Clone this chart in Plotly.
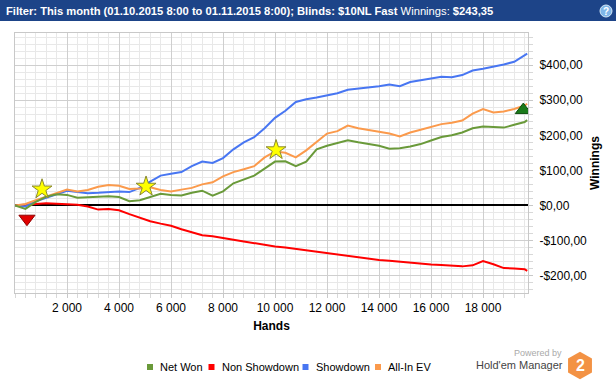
import math
import plotly.graph_objects as go

# ---------------- data ----------------
hands = [0, 400, 800, 1200, 1600, 2000, 2400, 2800, 3200, 3600,
         4000, 4400, 4800, 5200, 5600, 6000, 6400, 6800, 7200, 7600,
         8000, 8400, 8800, 9200, 9600, 10000, 10400, 10800, 11200, 11600,
         12000, 12400, 12800, 13200, 13600, 14000, 14400, 14800, 15200, 15600,
         16000, 16400, 16800, 17200, 17600, 18000, 18400, 18800, 19200, 19600,
         19700]

net_won = [0, -10, 10, 25, 32, 30, 22, 24, 25, 26,
           24, 12, 15, 24, 33, 30, 28, 36, 42, 28,
           40, 63, 75, 85, 105, 125, 126, 112, 125, 160,
           170, 178, 186, 180, 175, 170, 162, 163, 168, 175,
           185, 195, 200, 208, 220, 225, 224, 222, 230, 238,
           243.35]

non_showdown = [0, 1, 4, 6, 5, 4, 2, -3, -12, -10,
                -14, -25, -35, -45, -52, -58, -68, -76, -85, -88,
                -92, -98, -103, -108, -113, -117, -120, -124, -128, -133,
                -137, -140, -143, -148, -152, -156, -158, -161, -164, -166,
                -169, -170, -172, -174, -171, -159, -168, -179, -180, -182,
                -187]

showdown = [0, -3, 12, 22, 33, 42, 38, 35, 36, 37,
            40, 38, 50, 68, 85, 90, 95, 112, 125, 121,
            135, 160, 180, 195, 220, 250, 270, 295, 303, 308,
            313, 320, 330, 333, 338, 340, 345, 340, 352, 358,
            362, 367, 366, 372, 385, 390, 395, 402, 410, 428,
            433]

allin_ev = [0, 4, 15, 25, 36, 45, 40, 44, 53, 58,
            56, 47, 48, 52, 44, 40, 45, 50, 60, 66,
            83, 95, 103, 112, 137, 154, 150, 137, 157, 180,
            205, 212, 228, 220, 215, 212, 205, 197, 208, 216,
            225, 232, 236, 242, 262, 275, 265, 268, 275, 285,
            290]

star_hands = [1040, 5040, 10040]
star_values = [46, 54, 158]
low_hands = [460]
low_values = [-38]
high_hands = [19550]
high_values = [272]

series_names = ["Net Won", "Non Showdown", "Showdown", "All-In EV"]
series_colors = ["#6a9a3a", "#ff0000", "#4876f2", "#fb9a4c"]

x_tickvals = [2000, 4000, 6000, 8000, 10000, 12000, 14000, 16000, 18000]
x_ticktext = ["2 000", "4 000", "6 000", "8 000", "10 000", "12 000",
              "14 000", "16 000", "18 000"]
y_tickvals = [-200, -100, 0, 100, 200, 300, 400]
y_ticktext = ["-$200,00", "-$100,00", "$0,00", "$100,00", "$200,00",
              "$300,00", "$400,00"]

title_bold = "Filter: This month (01.10.2015 8:00 to 01.11.2015 8:00); Blinds: $10NL Fast"
title_rest = "Winnings:"
title_value = "$243,35"

# ---------------- layout helpers ----------------
W, H = 616, 380
ML, MR, MT, MB = 15, 88, 33, 87
PW, PH = W - ML - MR, H - MT - MB


def px(x):
    return (x - ML) / PW


def py(y):
    return (H - MB - y) / PH


FONT = "Liberation Sans, Arial, sans-serif"

fig = go.Figure()

series = [net_won, non_showdown, showdown, allin_ev]
order = [1, 2, 3, 0]
for k in order:
    fig.add_trace(go.Scatter(
        x=hands, y=series[k], mode="lines", name=series_names[k],
        line=dict(color=series_colors[k], width=2),
        showlegend=False, hoverinfo="skip"))

fig.add_trace(go.Scatter(
    x=star_hands, y=star_values, mode="markers", showlegend=False,
    marker=dict(symbol="star", size=15, color="#ffff00",
                line=dict(color="#8a8a30", width=1))))
fig.add_trace(go.Scatter(
    x=low_hands, y=low_values, mode="markers", showlegend=False,
    marker=dict(symbol="triangle-down", size=14, color="#e00000",
                line=dict(color="#900000", width=1))))
fig.add_trace(go.Scatter(
    x=high_hands, y=high_values, mode="markers", showlegend=False,
    marker=dict(symbol="triangle-up", size=14, color="#1a7a1a",
                line=dict(color="#0d4d0d", width=1))))

shapes = []
annotations = []

# header bar
shapes.append(dict(type="rect", xref="paper", yref="paper",
                   x0=px(-5), x1=px(W + 5), y0=py(21), y1=py(-5),
                   fillcolor="#1d4488", line=dict(width=0), layer="above"))
# help icon
shapes.append(dict(type="circle", xref="paper", yref="paper",
                   x0=px(600), x1=px(612), y0=py(17), y1=py(5),
                   fillcolor="#7fb6e8", line=dict(color="#d6e9f8", width=1)))
# hexagon logo
cx, cy, R = 580, 365.5, 13.8
pts = []
for i in range(6):
    a = math.radians(90 + 60 * i)
    pts.append((px(cx + R * math.cos(a)), py(cy - R * math.sin(a))))
path = "M " + " L ".join(f"{a:.5f},{b:.5f}" for a, b in pts) + " Z"
shapes.append(dict(type="path", xref="paper", yref="paper", path=path,
                   fillcolor="#f39244", line=dict(width=0)))

# legend (squares + labels)
legend_sq_left = [147, 208.5, 302.5, 375]
legend_y = 367
for name, color, x0 in zip(series_names, series_colors, legend_sq_left):
    shapes.append(dict(type="rect", xref="paper", yref="paper",
                       x0=px(x0), x1=px(x0 + 6), y0=py(legend_y + 3),
                       y1=py(legend_y - 3), fillcolor=color,
                       line=dict(width=0)))
    annotations.append(dict(xref="paper", yref="paper", x=px(x0 + 11),
                            y=py(legend_y), xanchor="left", yanchor="middle",
                            showarrow=False, text=name,
                            font=dict(family=FONT, size=11, color="#000")))

annotations += [
    dict(xref="paper", yref="paper", x=px(4), y=py(11), xanchor="left",
         yanchor="middle", showarrow=False,
         text=f"<b>{title_bold}</b> {title_rest} <b>{title_value}</b>",
         font=dict(family=FONT, size=11.2, color="white")),
    dict(xref="paper", yref="paper", x=px(606), y=py(11.5), xanchor="center",
         yanchor="middle", showarrow=False, text="<b>?</b>",
         font=dict(family=FONT, size=10, color="white")),
    dict(xref="paper", yref="paper", x=px(564), y=py(352.5), xanchor="right",
         yanchor="middle", showarrow=False, text="Powered by",
         font=dict(family=FONT, size=9, color="#aaaaaa")),
    dict(xref="paper", yref="paper", x=px(565), y=py(365), xanchor="right",
         yanchor="middle", showarrow=False, text="Hold'em Manager",
         font=dict(family=FONT, size=11, color="#444444")),
    dict(xref="paper", yref="paper", x=px(580), y=py(365.5), xanchor="center",
         yanchor="middle", showarrow=False, text="<b>2</b>",
         font=dict(family=FONT, size=16, color="white")),
]

fig.update_layout(
    width=W, height=H,
    margin=dict(l=ML, r=MR, t=MT, b=MB, autoexpand=False),
    paper_bgcolor="white", plot_bgcolor="white",
    font=dict(family=FONT, size=12, color="#000000"),
    shapes=shapes, annotations=annotations, showlegend=False,
    xaxis=dict(range=[0, 19730], tickmode="array", tickvals=x_tickvals,
               ticktext=x_ticktext, showgrid=True, gridcolor="#cfcfcf",
               gridwidth=1, zeroline=False, showline=True, linecolor="#c8c8c8",
               mirror=True, ticks="outside", ticklen=4, tickcolor="#c8c8c8",
               minor=dict(tickmode="linear", tick0=0, dtick=400, showgrid=True,
                          gridcolor="#e8e8e8", ticks="outside", ticklen=4,
                          tickcolor="#d8d8d8"),
               title=dict(text="<b>Hands</b>", standoff=7,
                          font=dict(family=FONT, size=12)),
               tickfont=dict(family=FONT, size=12), automargin=False),
    yaxis=dict(range=[-250, 492], side="right", tickmode="array",
               tickvals=y_tickvals, ticktext=y_ticktext, showgrid=True,
               gridcolor="#cfcfcf", gridwidth=1, zeroline=True,
               zerolinecolor="#000000", zerolinewidth=2, showline=True,
               linecolor="#c8c8c8", mirror=True, ticks="outside", ticklen=4,
               tickcolor="#c8c8c8", ticklabelstandoff=4,
               minor=dict(tickmode="linear", tick0=0, dtick=20, showgrid=True,
                          gridcolor="#e8e8e8", ticks="outside", ticklen=4,
                          tickcolor="#d8d8d8"),
               title=dict(text="<b>Winnings</b>", standoff=4,
                          font=dict(family=FONT, size=12)),
               tickfont=dict(family=FONT, size=12), automargin=False),
)

fig.write_html("out.html",
               config={"displayModeBar": False},
               post_script="document.body.style.margin='0';"
                           "document.body.style.overflow='hidden';")
